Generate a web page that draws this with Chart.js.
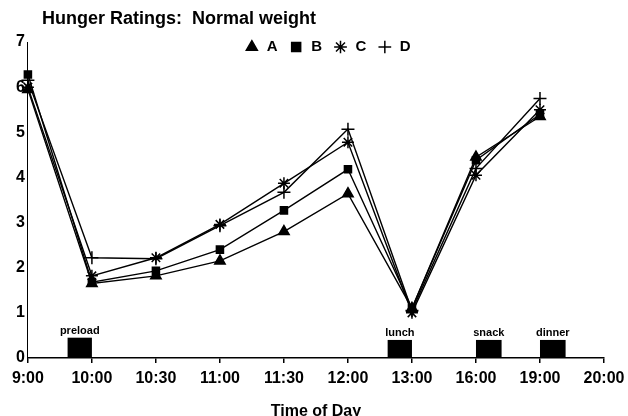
<!DOCTYPE html>
<html>
<head>
<meta charset="utf-8">
<script src="https://cdn.jsdelivr.net/npm/chart.js@4/dist/chart.umd.min.js"></script>
<style>
  html, body { margin: 0; padding: 0; background: #fff; }
  #wrap { width: 628px; height: 416px; }
</style>
</head>
<body>
<div id="wrap"><canvas id="hunger" width="628" height="416"></canvas></div>
<script>
// --- data ---
const times = ['9:00', '10:00', '10:30', '11:00', '11:30', '12:00', '13:00', '16:00', '19:00', '20:00'];
const seriesA = [5.95, 1.65, 1.82, 2.15, 2.80, 3.64, 1.10, 4.45, 5.35];
const seriesB = [6.28, 1.68, 1.93, 2.40, 3.27, 4.18, 1.10, 4.38, 5.40];
const seriesC = [6.00, 1.82, 2.22, 2.96, 3.87, 4.78, 1.00, 4.05, 5.50];
const seriesD = [6.15, 2.22, 2.20, 2.93, 3.67, 5.07, 1.05, 4.20, 5.75];
const yTicks = [0, 1, 2, 3, 4, 5, 6, 7];

// meal blocks, in category-index units along x and rating units up y
const mealNames = ['preload', 'lunch', 'snack', 'dinner'];
const mealStart = [0.62, 5.62, 7.0, 8.0];
const mealEnd = [1.0, 6.0, 7.4, 8.4];
const mealHeight = [0.45, 0.4, 0.4, 0.4];

const FONT = "'Liberation Sans', Arial, Helvetica, sans-serif";
Chart.defaults.font.family = FONT;
Chart.defaults.font.weight = 'bold';
Chart.defaults.color = '#000';

// title sits left of centre, so draw it ourselves
const titlePlugin = {
    id: 'leftTitle',
    afterLayout(chart) {
        // legend sits a little right of centre, overlapping the top of the plot
        const lg = chart.legend;
        const dy = chart.chartArea.top - 13.5 - lg.top;
        lg.top += dy; lg.bottom += dy;
        lg.left += 19; lg.right += 19;
    },
    afterDraw(chart) {
        const ctx = chart.ctx;
        ctx.save();
        ctx.font = "bold 18px " + FONT;
        ctx.fillStyle = '#000';
        ctx.textBaseline = 'middle';
        ctx.textAlign = 'left';
        ctx.fillText('Hunger Ratings:  Normal weight', chart.chartArea.left + 14, 19);
        ctx.restore();
    }
};

// black meal boxes sitting on the x axis
const mealPlugin = {
    id: 'meals',
    beforeDatasetsDraw(chart) {
        const { ctx, scales: { x, y } } = chart;
        ctx.save();
        ctx.fillStyle = '#000';
        ctx.font = "bold 11px " + FONT;
        ctx.textAlign = 'center';
        ctx.textBaseline = 'bottom';
        mealNames.forEach((name, i) => {
            const x0 = x.getPixelForValue(mealStart[i]);
            const x1 = x.getPixelForValue(mealEnd[i]);
            const y0 = y.getPixelForValue(0);
            const y1 = y.getPixelForValue(mealHeight[i]);
            ctx.fillRect(x0, y1, x1 - x0, y0 - y1);
            ctx.fillText(name, (x0 + x1) / 2, y1 - 1);
        });
        ctx.restore();
    }
};

const mk = (label, data, style, radius) => ({
    label, data,
    borderColor: '#000', backgroundColor: '#000',
    borderWidth: 1.4,
    pointStyle: style, pointRadius: radius, pointHoverRadius: radius,
    pointBackgroundColor: '#000', pointBorderColor: '#000', pointBorderWidth: 1.5,
    tension: 0
});

new Chart(document.getElementById('hunger').getContext('2d'), {
    type: 'line',
    data: {
        labels: times,
        datasets: [
            mk('A', seriesA, 'triangle', 6),
            mk('B', seriesB, 'rect', 5),
            mk('C', seriesC, 'star', 6),
            mk('D', seriesD, 'cross', 6.5)
        ]
    },
    options: {
        responsive: false,
        animation: false,
        layout: { padding: { top: 6, left: 13, right: 24, bottom: 0 } },
        plugins: {
            title: { display: false },
            tooltip: { enabled: false },
            legend: {
                position: 'top',
                align: 'center',
                labels: {
                    usePointStyle: true,
                    boxWidth: 15,
                    boxHeight: 9,
                    padding: 11,
                    font: { size: 15, weight: 'bold' },
                    color: '#000'
                }
            }
        },
        scales: {
            x: {
                offset: false,
                afterFit: (scale) => { scale.paddingLeft = 0; scale.paddingRight = 0; },
                grid: { display: true, drawOnChartArea: false, drawTicks: true, tickLength: 5, color: '#000', lineWidth: 1.5 },
                border: { display: true, color: '#000', width: 1.5 },
                ticks: { padding: 8, maxRotation: 0, autoSkip: false, font: { size: 16, weight: 'bold', lineHeight: 1 }, color: '#000' },
                title: { display: true, text: 'Time of Day', font: { size: 16, weight: 'bold', lineHeight: 1 }, padding: { top: 9, bottom: -4 }, color: '#000' }
            },
            y: {
                min: 0, max: 7,
                afterBuildTicks: (scale) => { scale.ticks = yTicks.map(v => ({ value: v })); },
                grid: { display: false, drawTicks: false },
                border: { display: true, color: '#000', width: 1 },
                ticks: { padding: 3, font: { size: 16, weight: 'bold' }, color: '#000' }
            }
        }
    },
    plugins: [titlePlugin, mealPlugin]
});
</script>
</body>
</html>
